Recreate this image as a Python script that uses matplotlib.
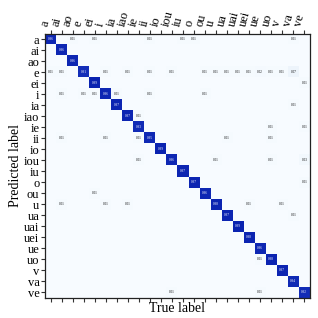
import numpy as np
import matplotlib
matplotlib.use("Agg")
import matplotlib.pyplot as plt
from matplotlib.colors import LinearSegmentedColormap

plt.rcParams["font.family"] = ["Liberation Serif", "DejaVu Serif"]

# clases (filas = predicho, columnas = verdadero)
labels = ["a", "ai", "ao", "e", "ei", "i", "ia", "iao", "ie", "ii", "io", "iou",
          "iu", "o", "ou", "u", "ua", "uai", "uei", "ue", "uo", "v", "va", "ve"]

diag_vals = [0.96, 0.96, 0.96, 0.91, 0.99, 0.96, 0.97, 0.97, 0.93, 0.95, 0.99, 0.96,
             0.97, 0.97, 0.96, 0.98, 0.97, 0.99, 0.98, 0.96, 0.98, 0.97, 0.94, 0.92]

# valores fuera de la diagonal
off_rows = [0, 0, 0, 0, 0, 0,
            3, 3, 3, 3, 3, 3, 3, 3, 3, 3, 3, 3, 3, 3, 3,
            4,
            5, 5, 5, 5, 5, 5,
            6, 7, 8, 8,
            9, 9, 9, 9, 9,
            11, 11, 11, 11,
            13, 14,
            15, 15, 15, 15, 15,
            16, 20, 23, 23]
off_cols = [2, 4, 9, 12, 13, 22,
            0, 1, 5, 7, 9, 11, 14, 15, 16, 17, 18, 19, 20, 21, 22,
            23,
            1, 3, 4, 6, 9, 14,
            22, 8, 20, 23,
            1, 5, 8, 16, 20,
            8, 15, 20, 23,
            23, 4,
            1, 5, 7, 18, 21,
            22, 19, 11, 19]
off_vals = [0.01, 0.01, 0.01, 0.01, 0.01, 0.01,
            0.01, 0.01, 0.01, 0.01, 0.01, 0.01, 0.01, 0.01, 0.01, 0.01, 0.01, 0.02, 0.01, 0.01, 0.07,
            0.01,
            0.01, 0.01, 0.01, 0.01, 0.01, 0.01,
            0.01, 0.01, 0.01, 0.01,
            0.01, 0.01, 0.01, 0.01, 0.01,
            0.01, 0.01, 0.01, 0.03,
            0.01, 0.01,
            0.01, 0.01, 0.01, 0.01, 0.01,
            0.01, 0.01, 0.01, 0.01]

n = len(labels)
cm = np.zeros((n, n))
cm[np.arange(n), np.arange(n)] = diag_vals
cm[off_rows, off_cols] = off_vals

cmap = LinearSegmentedColormap.from_list("azul", ["#f7fbff", "#c6dbef", "#3050d0", "#0a22b0"])

fig = plt.figure(figsize=(3.18, 3.18), dpi=100)
ax = fig.add_axes([0.1415, 0.063, 0.833, 0.831])
ax.imshow(cm, cmap=cmap, vmin=0, vmax=1, interpolation="nearest", aspect="auto")

for i in range(n):
    for j in range(n):
        v = cm[i, j]
        if v > 0:
            ax.text(j, i, f"{v:.2f}", ha="center", va="center", fontsize=2.4,
                    color="white" if v > 0.5 else "black")

ax.set_xticks(range(n))
ax.set_yticks(range(n))
ax.set_xticklabels(labels, rotation=75, ha="left", rotation_mode="anchor", fontsize=9)
ax.set_yticklabels(labels, fontsize=9)
ax.tick_params(top=True, labeltop=True, bottom=True, labelbottom=False,
               length=3, width=0.8, pad=1, color="#333333")
ax.set_xlabel("True label", fontsize=10, labelpad=0)
ax.set_ylabel("Predicted label", fontsize=10, labelpad=1)
for s in ax.spines.values():
    s.set_linewidth(0.9)
    s.set_color("#222222")

plt.savefig("out.png", dpi=100)
